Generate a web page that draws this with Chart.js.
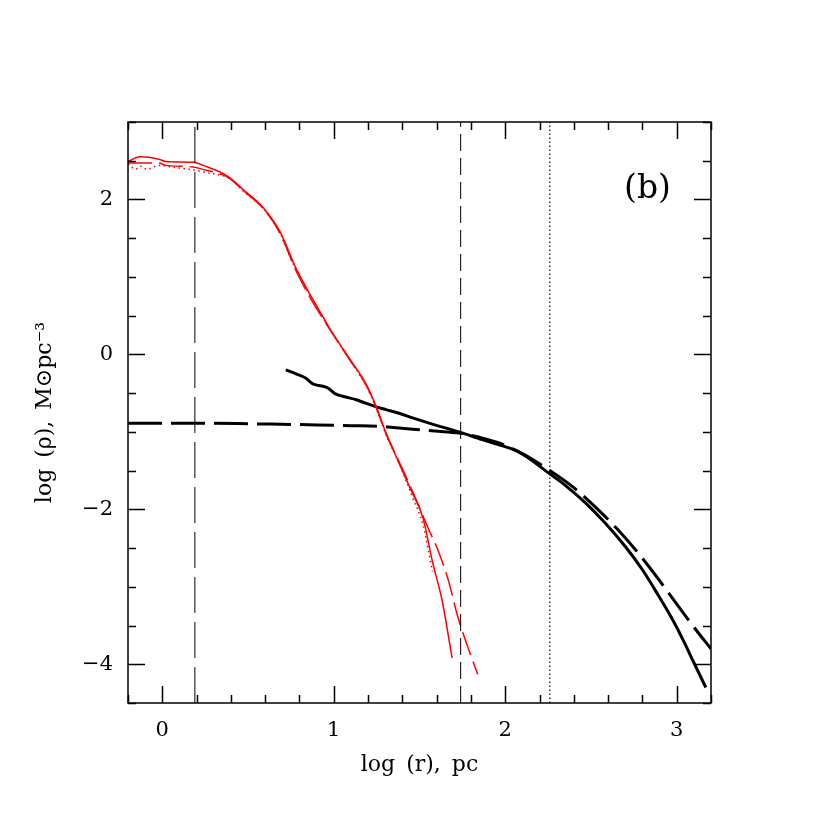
<!DOCTYPE html>
<html>
<head>
<meta charset="utf-8">
<script src="https://cdn.jsdelivr.net/npm/chart.js@4/dist/chart.umd.min.js"></script>
<style>
  body { margin: 0; background: #fff; }
  canvas { display: block; }
</style>
</head>
<body>
<canvas id="myChart" width="830" height="830"></canvas>
<script>
// axis ranges and tick labels
const xRange = [-0.2, 3.2];
const yRange = [-4.5, 3];
const xTickLabels = [0, 1, 2, 3];
const yTickLabels = [-4, -2, 0, 2];

// red curves (inner profile)
const redSolidX = [-0.2, -0.13, -0.02, 0.02, 0.18, 0.25, 0.35, 0.40, 0.47, 0.59, 0.685, 0.78, 0.84, 0.92, 0.975, 1.09, 1.19, 1.25, 1.30, 1.35, 1.38, 1.45, 1.52, 1.575, 1.633, 1.69];
const redSolidY = [2.49, 2.55, 2.52, 2.49, 2.48, 2.43, 2.34, 2.27, 2.13, 1.89, 1.59, 1.11, 0.86, 0.55, 0.34, -0.05, -0.39, -0.69, -0.99, -1.25, -1.40, -1.75, -2.11, -2.67, -3.19, -3.92];

const redDashX = [-0.2, -0.02, 0.02, 0.18, 0.25, 0.35, 0.40, 0.47, 0.59, 0.685, 0.78, 0.84, 0.92, 0.975, 1.09, 1.19, 1.25, 1.30, 1.38, 1.45, 1.50, 1.55, 1.61, 1.67, 1.72, 1.79, 1.84];
const redDashY = [2.47, 2.47, 2.44, 2.42, 2.38, 2.32, 2.26, 2.12, 1.88, 1.57, 1.08, 0.82, 0.52, 0.33, -0.06, -0.40, -0.70, -1.00, -1.38, -1.72, -1.98, -2.24, -2.54, -2.93, -3.36, -3.83, -4.13];

const redDotX = [-0.2, -0.155, -0.126, -0.09, -0.02, 0.078, 0.18, 0.27, 0.35, 0.40, 0.47, 0.59, 0.685, 0.78, 0.84, 0.92, 0.975, 1.09, 1.19, 1.25, 1.30, 1.38, 1.46, 1.52, 1.575];
const redDotY = [2.46, 2.39, 2.43, 2.39, 2.44, 2.41, 2.38, 2.34, 2.31, 2.26, 2.11, 1.88, 1.57, 1.09, 0.84, 0.53, 0.33, -0.06, -0.41, -0.71, -1.01, -1.40, -1.85, -2.20, -2.80];

// black curves (outer profile)
const blackSolidX = [0.72, 0.78, 0.84, 0.87, 0.89, 0.95, 0.97, 1.01, 1.07, 1.13, 1.24, 1.30, 1.38, 1.46, 1.575, 1.73, 1.865, 1.96, 2.06, 2.15, 2.24, 2.35, 2.465, 2.58, 2.70, 2.80, 2.89, 2.97, 3.045, 3.10, 3.17];
const blackSolidY = [-0.20, -0.25, -0.31, -0.37, -0.39, -0.42, -0.44, -0.51, -0.55, -0.585, -0.67, -0.71, -0.76, -0.82, -0.90, -1.00, -1.10, -1.165, -1.24, -1.36, -1.51, -1.69, -1.91, -2.17, -2.48, -2.78, -3.10, -3.40, -3.72, -3.98, -4.30];

const blackDashX = [-0.2, 0.0, 0.3, 0.63, 0.9, 1.1, 1.27, 1.38, 1.59, 1.73, 1.85, 1.96, 2.10, 2.24, 2.40, 2.54, 2.66, 2.77, 2.90, 3.006, 3.10, 3.20];
const blackDashY = [-0.89, -0.89, -0.89, -0.90, -0.91, -0.92, -0.93, -0.95, -0.99, -1.015, -1.07, -1.14, -1.28, -1.47, -1.72, -2.00, -2.27, -2.55, -2.92, -3.24, -3.52, -3.80];

// vertical marker lines
const markerLongDash = 0.19;
const markerDash = 1.74;
const markerDot = 2.26;

const panelLabel = '(b)';
const panelLabelPos = [2.83, 2.13];

const zip = (xs, ys) => xs.map((x, i) => ({x: x, y: ys[i]}));
const vline = v => [{x: v, y: yRange[0]}, {x: v, y: yRange[1]}];

const serif = "'DejaVu Serif', 'Liberation Serif', serif";

// frame with inward ticks on all four sides, plus the panel label
const frameTicks = {
  id: 'frameTicks',
  afterDatasetsDraw(chart) {
    const {ctx, chartArea: a, scales: {x, y}} = chart;
    ctx.save();
    ctx.strokeStyle = '#000';
    ctx.lineWidth = 1.5;
    ctx.strokeRect(a.left, a.top, a.right - a.left, a.bottom - a.top);
    ctx.beginPath();
    for (let i = 0; i <= 17; i++) {
      const v = xRange[0] + i * 0.2;
      const len = xTickLabels.some(t => Math.abs(t - v) < 1e-6) ? 17 : 8;
      const px = Math.round(x.getPixelForValue(v)) + 0.5;
      ctx.moveTo(px, a.bottom); ctx.lineTo(px, a.bottom - len);
      ctx.moveTo(px, a.top); ctx.lineTo(px, a.top + len);
    }
    for (let i = 0; i <= 15; i++) {
      const v = yRange[0] + i * 0.5;
      const len = yTickLabels.some(t => Math.abs(t - v) < 1e-6) ? 17 : 8;
      const py = Math.round(y.getPixelForValue(v)) + 0.5;
      ctx.moveTo(a.left, py); ctx.lineTo(a.left + len, py);
      ctx.moveTo(a.right, py); ctx.lineTo(a.right - len, py);
    }
    ctx.stroke();
    ctx.fillStyle = '#000';
    ctx.font = '33px ' + serif;
    ctx.textAlign = 'center';
    ctx.textBaseline = 'middle';
    ctx.fillText(panelLabel, x.getPixelForValue(panelLabelPos[0]), y.getPixelForValue(panelLabelPos[1]));
    ctx.restore();
  }
};

const curve = {cubicInterpolationMode: 'monotone'};

const ctx = document.getElementById('myChart').getContext('2d');
const myChart = new Chart(ctx, {
  type: 'line',
  data: {
    datasets: [
      {data: vline(markerLongDash), borderColor: '#000', borderWidth: 1, borderDash: [36, 9]},
      {data: vline(markerDash), borderColor: '#000', borderWidth: 1, borderDash: [17, 7]},
      {data: vline(markerDot), borderColor: '#000', borderWidth: 1.2, borderDash: [1.5, 2.5]},
      {data: zip(redDotX, redDotY), borderColor: '#ff0000', borderWidth: 1.5, borderDash: [1.5, 3.5], ...curve},
      {data: zip(redDashX, redDashY), borderColor: '#ff0000', borderWidth: 1.5, borderDash: [24, 7], ...curve},
      {data: zip(redSolidX, redSolidY), borderColor: '#ff0000', borderWidth: 1.5, ...curve},
      {data: zip(blackDashX, blackDashY), borderColor: '#000', borderWidth: 3, borderDash: [34, 9], ...curve},
      {data: zip(blackSolidX, blackSolidY), borderColor: '#000', borderWidth: 3, ...curve}
    ]
  },
  options: {
    responsive: false,
    animation: false,
    layout: {padding: {top: 122, right: 119, left: 0, bottom: 0}},
    elements: {
      point: {radius: 0},
      line: {borderCapStyle: 'butt', fill: false}
    },
    plugins: {legend: {display: false}, tooltip: {enabled: false}},
    scales: {
      x: {
        type: 'linear',
        min: xRange[0], max: xRange[1],
        grid: {display: false, drawTicks: false},
        border: {display: false},
        afterBuildTicks: s => { s.ticks = xTickLabels.map(v => ({value: v})); },
        afterFit: s => { s.height = 127; },
        ticks: {
          color: '#000', padding: 15,
          font: {family: serif, size: 21},
          callback: v => String(v).replace('-', '\u2212')
        },
        title: {
          display: true, text: 'log\u2002(r),\u2002pc', color: '#000',
          font: {family: serif, size: 22},
          padding: {top: 0, bottom: 52}
        }
      },
      y: {
        type: 'linear',
        min: yRange[0], max: yRange[1],
        grid: {display: false, drawTicks: false},
        border: {display: false},
        afterBuildTicks: s => { s.ticks = yTickLabels.map(v => ({value: v})); },
        afterFit: s => { s.width = 128; },
        ticks: {
          color: '#000', padding: 15,
          font: {family: serif, size: 21},
          callback: v => String(v).replace('-', '\u2212')
        },
        title: {
          display: true, text: 'log\u2002(\u03c1),\u2002M\u2299pc\u207b\u00b3', color: '#000',
          font: {family: serif, size: 22},
          padding: {top: 32, bottom: 0}
        }
      }
    }
  },
  plugins: [frameTicks]
});
</script>
</body>
</html>
